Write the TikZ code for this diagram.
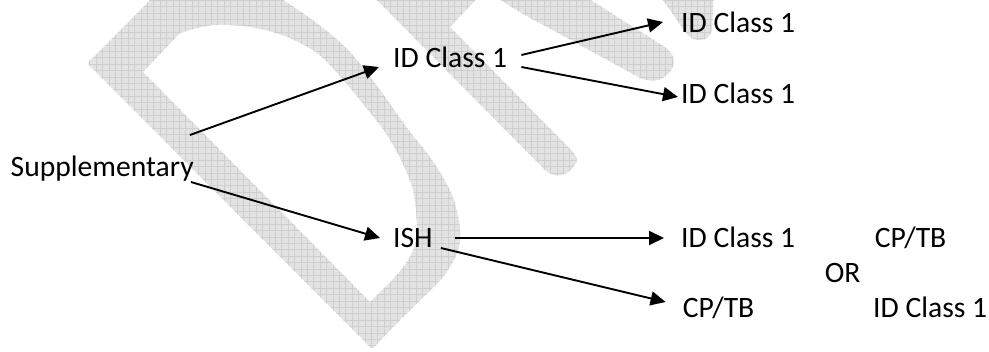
\documentclass[tikz,border=0pt]{standalone}
\usepackage{fontspec}
\setmainfont{Carlito}
\usetikzlibrary{arrows.meta}
\definecolor{wmfill}{HTML}{E3E3E3}
\definecolor{wmline}{HTML}{CFCFCF}
\newcommand\wmpart[1]{%
  \begin{scope}[even odd rule]
    \clip #1;
    \fill[wmfill] (-20,-20) rectangle (1000,400);
    \draw[wmline,line width=0.45pt,step=6.4] (-20,-20) grid (1000,400);
  \end{scope}}
\begin{document}
\begin{tikzpicture}[x=1pt,y=1pt,
  lbl/.style={inner sep=0pt, anchor=base west, font=\fontsize{29.6}{35}\selectfont},
  conn/.style={line width=1.9pt, -{Triangle[length=15pt,width=14pt]}}]
\useasboundingbox (0,0) rectangle (989,352);
\fill[white] (0,0) rectangle (989,352);
% watermark (drawn in pixel coordinates, y downwards)
\begin{scope}
  \clip (0,0) rectangle (989,352);
  \begin{scope}[shift={(0,352)},yscale=-1]
    % letter D with its hole
    \wmpart{(165,-15) -- (95,56) .. controls (86,63) .. (95,71) -- (366,343)
      .. controls (372,350) .. (378,343)
      -- plot[smooth] coordinates {(378,343) (400,320) (443,277) (458,250) (460,228)
         (452,195) (432,160) (407,128) (380,90) (350,52) (318,24) (283,0) (260,-15)}
      -- cycle
      (143,72) -- (370,302)
      -- plot[smooth] coordinates {(370,302) (395,277) (411,255) (417,230) (413,190)
         (400,158) (385,132) (360,100) (340,76) (317,53) (285,36) (250,27) (213,25) (180,33)}
      -- cycle}
    % stem of R
    \wmpart{(367,-10) -- (543,168) .. controls (553,180) and (568,176) .. (574,166)
      .. controls (578,160) .. (573,152) -- (450,27) -- (485,-10) -- cycle}
    % band of R
    \wmpart{(575,-10) -- (660,44) .. controls (675,52) and (678,64) .. (668,74)
      .. controls (660,82) and (650,82) .. (640,78) -- (560,34)
      .. controls (530,18) and (505,5) .. (488,-10) -- cycle}
    % small piece at the top
    \wmpart{(656,-10) -- (686,33) .. controls (693,43) and (709,43) .. (712,30)
      -- (714,-10) -- cycle}
  \end{scope}
\end{scope}
% labels
\node[lbl] (sup) at (10.5,175) {Supplementary};
\node[lbl] (id1) at (393,284) {ID Class 1};
\node[lbl] (id2) at (681,319) {ID Class 1};
\node[lbl] (id3) at (681,248) {ID Class 1};
\node[lbl] (ish) at (393,104) {ISH};
\node[lbl] (id4) at (681,104) {ID Class 1};
\node[lbl] (cp1) at (874.6,104) {CP/TB};
\node[lbl] (or) at (824.6,69) {OR};
\node[lbl] (cp2) at (682.6,34) {CP/TB};
\node[lbl] (id5) at (873,34) {ID Class 1};
% connectors
\draw[conn] ([shift={(-4,42)}]sup.base east) -- ([shift={(-14,1)}]id1.base west);
\draw[conn] ([shift={(-3,-5)}]sup.base east) -- ([shift={(-13,10)}]ish.base west);
\draw[conn] ([shift={(14,13)}]id1.base east) -- ([shift={(-18,11)}]id2.base west);
\draw[conn] ([shift={(14,1)}]id1.base east) -- ([shift={(-3,7)}]id3.base west);
\draw[conn] ([shift={(22,10)}]ish.base east) -- ([shift={(-17,10)}]id4.base west);
\draw[conn] ([shift={(8,0)}]ish.base east) -- ([shift={(-17,16)}]cp2.base west);
\end{tikzpicture}
\end{document}
